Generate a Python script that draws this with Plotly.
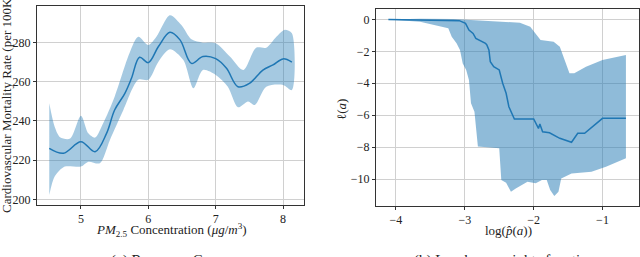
import plotly.graph_objects as go

# ---- Left panel: response curve ----
pm_x = [4.53, 4.74, 5.0, 5.21, 5.38, 5.5, 5.65, 5.75, 5.87, 6.0, 6.15, 6.32, 6.47, 6.64, 6.81, 7.0, 7.16, 7.33, 7.5, 7.7, 7.85, 8.0, 8.13]
pm_mean = [226, 223.5, 229.4, 224.3, 233.7, 245.6, 254, 261.8, 272.5, 269.8, 278, 285.3, 281.4, 269.4, 272.9, 271.8, 266.9, 257.5, 259.2, 266, 268.6, 271.7, 270]

up_x = [4.53, 4.61, 4.69, 4.84, 5.0, 5.11, 5.21, 5.33, 5.5, 5.72, 5.85, 6.0, 6.12, 6.32, 6.49, 6.64, 6.81, 7.0, 7.21, 7.41, 7.6, 7.75, 7.9, 8.02, 8.13]
up_y = [249, 237, 231.7, 231, 242.7, 233.7, 231.5, 238.8, 252.4, 274.6, 283, 278.8, 283, 294, 289, 281.7, 280, 279.7, 272.9, 266, 277.4, 277.4, 283, 286.5, 284.8]

lo_x = [4.53, 4.61, 4.76, 5.0, 5.11, 5.28, 5.43, 5.63, 5.85, 6.0, 6.15, 6.32, 6.52, 6.67, 6.81, 7.0, 7.18, 7.33, 7.48, 7.58, 7.75, 8.0, 8.13]
lo_y = [202.2, 211.6, 216.7, 216.7, 219.2, 218.4, 230.3, 245.6, 261, 261, 270.3, 276.6, 271.1, 256.7, 266, 263.5, 257.5, 247, 250, 248.2, 257.5, 258.4, 255.8]

# ---- Right panel: log-base weights ----
w_x = [-4.11, -3.08, -2.99, -2.94, -2.88, -2.84, -2.70, -2.68, -2.65, -2.63, -2.58, -2.5, -2.45, -2.40, -2.36, -2.28, -2.0, -1.93, -1.91, -1.87, -1.77, -1.62, -1.45, -1.36, -1.26, -1.14, -1.0, -0.66]
w_mean = [0, -0.08, -0.25, -0.67, -0.88, -1.19, -1.5, -1.6, -1.92, -2.65, -2.96, -3.17, -4.0, -4.63, -5.47, -6.24, -6.24, -6.83, -6.56, -7.04, -7.1, -7.45, -7.7, -7.14, -7.14, -6.72, -6.2, -6.2]

wu_x = [-4.11, -3.65, -3.17, -2.2, -2.05, -1.95, -1.9, -1.71, -1.62, -1.55, -1.48, -1.41, -1.24, -1.0, -0.66]
wu_y = [0, 0.04, 0.02, -0.21, -0.46, -0.98, -1.29, -1.4, -1.71, -2.55, -3.38, -3.38, -2.96, -2.55, -2.23]

wl_x = [-4.11, -3.65, -3.24, -3.19, -3.12, -3.07, -3.03, -2.98, -2.94, -2.91, -2.86, -2.81, -2.5, -2.47, -2.40, -2.33, -2.26, -2.09, -1.97, -1.88, -1.81, -1.76, -1.70, -1.64, -1.60, -1.45, -1.16, -0.95, -0.66]
wl_y = [0, -0.15, -0.56, -1.09, -1.5, -1.92, -2.76, -3.17, -3.8, -5.26, -5.78, -7.97, -8.08, -10.06, -10.23, -10.8, -10.59, -10.17, -10.27, -10.06, -10.06, -10.69, -11.06, -10.79, -9.96, -9.65, -9.54, -9.23, -8.7]

left_ticks = [5, 6, 7, 8]
left_yticks = [200, 220, 240, 260, 280]
right_ticks = [-4, -3, -2, -1]
right_yticks = [0, -2, -4, -6, -8, -10]

BLUE = "#1f77b4"
BAND_L = "rgba(31,119,180,0.4)"
BAND_R = "rgba(31,119,180,0.5)"
FONT = "Liberation Serif"

fig = go.Figure()
fig.add_trace(go.Scatter(x=up_x + lo_x[::-1], y=up_y + lo_y[::-1], mode="lines",
                         line=dict(width=0, shape="spline", smoothing=0.8), fill="toself", fillcolor=BAND_L,
                         xaxis="x", yaxis="y", showlegend=False, hoverinfo="skip"))
fig.add_trace(go.Scatter(x=pm_x, y=pm_mean, mode="lines", line=dict(color=BLUE, width=1.5, shape="spline"),
                         xaxis="x", yaxis="y", showlegend=False))
fig.add_trace(go.Scatter(x=wu_x + wl_x[::-1], y=wu_y + wl_y[::-1], mode="lines",
                         line=dict(width=0), fill="toself", fillcolor=BAND_R,
                         xaxis="x2", yaxis="y2", showlegend=False, hoverinfo="skip"))
fig.add_trace(go.Scatter(x=w_x, y=w_mean, mode="lines", line=dict(color=BLUE, width=1.5),
                         xaxis="x2", yaxis="y2", showlegend=False))

ax_common = dict(showline=True, mirror=True, linecolor="#333333", linewidth=1,
                 showgrid=True, gridcolor="#d0d0d0", gridwidth=1, zeroline=False,
                 ticks="outside", ticklen=3, tickcolor="#333333", automargin=False,
                 tickfont=dict(family=FONT, size=12, color="#222222"))

fig.update_layout(
    width=640, height=257, margin=dict(l=0, r=0, t=0, b=0, autoexpand=False),
    plot_bgcolor="white", paper_bgcolor="white",
    xaxis=dict(domain=[37/640, 304/640], range=[4.348, 8.31], tickvals=left_ticks, anchor="y", **ax_common),
    yaxis=dict(domain=[1-205/257, 1-6/257], range=[197.1, 298.7], tickvals=left_yticks, anchor="x", **ax_common),
    xaxis2=dict(domain=[376/640, 639/640], range=[-4.29, -0.47], tickvals=right_ticks, anchor="y2", **ax_common),
    yaxis2=dict(domain=[1-206/257, 1-9/257], range=[-11.69, 0.65], tickvals=right_yticks, anchor="x2", **ax_common),
)

ann_font = dict(family=FONT, size=13, color="#222222")
def ann(text, x, y, font, angle=0, yanchor="middle"):
    fig.add_annotation(text=text, x=x/640, y=1-y/257, xref="paper", yref="paper",
                       xanchor="center", yanchor=yanchor, textangle=angle,
                       showarrow=False, font=font)

ann("<i>PM</i><sub>2.5</sub> Concentration (<i>μg</i>/<i>m</i><sup>3</sup>)", 171, 230, ann_font)
ann("Cardiovascular Mortality Rate (per 100K)", 6, 104, ann_font, angle=-90)
ann("log(<i>p̂</i>(<i>a</i>))", 508, 230, ann_font)
ann("ℓ(<i>a</i>)", 341, 110, ann_font, angle=-90)
cap_font = dict(family=FONT, size=15, color="#222222")
ann("(a) Response Curve", 170, 250, cap_font, yanchor="top")
ann("(b) Log-base weights function", 505, 250, cap_font, yanchor="top")

fig.write_html("out.html", config={"displayModeBar": False},
               post_script="document.body.style.margin='0px';document.body.style.overflow='hidden';")
